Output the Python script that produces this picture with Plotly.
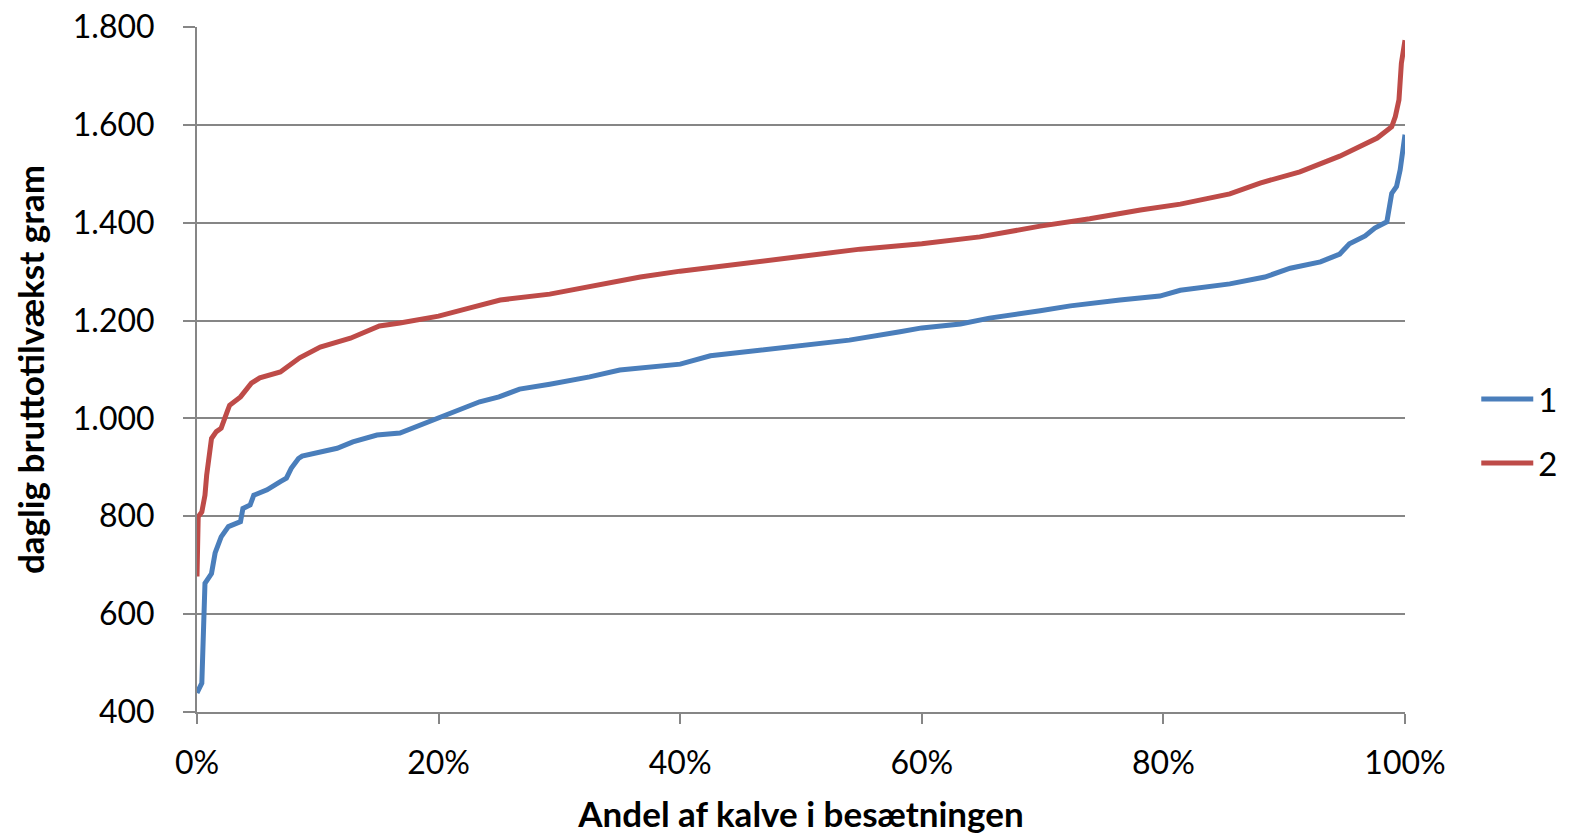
import plotly.graph_objects as go

# andel af kalve (0-1) og daglig tilvækst (gram)
andel_1 = [0.0, 0.002, 0.004, 0.0066, 0.012, 0.015, 0.020, 0.026, 0.036, 0.038, 0.044, 0.047,
           0.058, 0.069, 0.074, 0.078, 0.084, 0.087, 0.105, 0.116, 0.129, 0.149, 0.168, 0.2,
           0.234, 0.25, 0.267, 0.292, 0.325, 0.35, 0.40, 0.425, 0.466, 0.499, 0.54, 0.582,
           0.6, 0.632, 0.656, 0.698, 0.723, 0.764, 0.797, 0.814, 0.855, 0.884, 0.905, 0.93,
           0.946, 0.954, 0.967, 0.975, 0.983, 0.985, 0.989, 0.993, 0.996, 0.999, 1.0]
gram_1 = [439, 449, 459, 663, 683, 725, 758, 779, 789, 816, 823, 843,
          854, 871, 878, 898, 918, 923, 932, 939, 952, 966, 970, 1000,
          1034, 1044, 1060, 1070, 1085, 1099, 1111, 1128, 1140, 1150, 1160, 1177,
          1185, 1193, 1205, 1220, 1230, 1242, 1250, 1262, 1275, 1289, 1307, 1320,
          1336, 1357, 1373, 1389, 1401, 1402, 1460, 1474, 1508, 1555, 1580]

andel_2 = [0.0, 0.001, 0.004, 0.0066, 0.008, 0.012, 0.016, 0.020, 0.025, 0.027, 0.036, 0.045,
           0.052, 0.069, 0.085, 0.102, 0.127, 0.151, 0.168, 0.2, 0.226, 0.251, 0.292, 0.334,
           0.367, 0.4, 0.45, 0.499, 0.549, 0.6, 0.648, 0.698, 0.739, 0.781, 0.814, 0.855,
           0.88, 0.913, 0.946, 0.977, 0.989, 0.992, 0.995, 0.997, 1.0]
gram_2 = [677, 799, 809, 843, 884, 959, 973, 980, 1014, 1027, 1044, 1072,
          1083, 1095, 1124, 1146, 1164, 1189, 1195, 1209, 1226, 1242, 1254, 1275,
          1289, 1301, 1316, 1332, 1346, 1357, 1371, 1393, 1408, 1426, 1438, 1459,
          1481, 1504, 1536, 1573, 1596, 1617, 1651, 1726, 1773]

serier = ["1", "2"]
farver = ["#4A7EBB", "#BE4B48"]

fig = go.Figure()
fig.add_trace(go.Scatter(x=andel_1, y=gram_1, mode="lines", name=serier[0], legendgroup="a",
                         line=dict(color=farver[0], width=5)))
fig.add_trace(go.Scatter(x=andel_2, y=gram_2, mode="lines", name=serier[1], legendgroup="b",
                         line=dict(color=farver[1], width=5)))

# siden har 8px body-margin, så figuren gøres 8px mindre
font = "Lato, 'Open Sans', sans-serif"
fig.update_layout(
    width=1562, height=826,
    margin=dict(l=189, r=165, t=19, b=122, autoexpand=False),
    plot_bgcolor="white", paper_bgcolor="white",
    separators=",.",
    font=dict(family=font, size=32, color="black"),
    showlegend=True,
    legend=dict(x=1.059, y=0.41, xanchor="left", yanchor="middle",
                font=dict(size=33), tracegroupgap=18, itemwidth=52,
                bgcolor="rgba(0,0,0,0)"),
    xaxis=dict(range=[0, 1], tickvals=[0, 0.2, 0.4, 0.6, 0.8, 1.0], tickformat=".0%",
               showgrid=False, zeroline=False, showline=True, linecolor="#868686",
               linewidth=2, ticks="outside", ticklen=10, tickcolor="#868686", tickwidth=2,
               ticklabelstandoff=12, automargin=False, ticklabeloverflow="allow",
               title=dict(text="<b>Andel af kalve i besætningen</b>", standoff=22,
                          font=dict(size=35))),
    yaxis=dict(range=[400, 1800], dtick=200, tickformat=",d",
               showgrid=True, gridcolor="#868686", gridwidth=2, zeroline=False,
               showline=True, linecolor="#868686", linewidth=2,
               ticks="outside", ticklen=12, tickcolor="#868686", tickwidth=2,
               ticklabelstandoff=22, automargin=False, ticklabeloverflow="allow",
               title=dict(text="<b>daglig bruttotilvækst gram</b>", standoff=18,
                          font=dict(size=35))),
)

fig.write_html("out.html")
